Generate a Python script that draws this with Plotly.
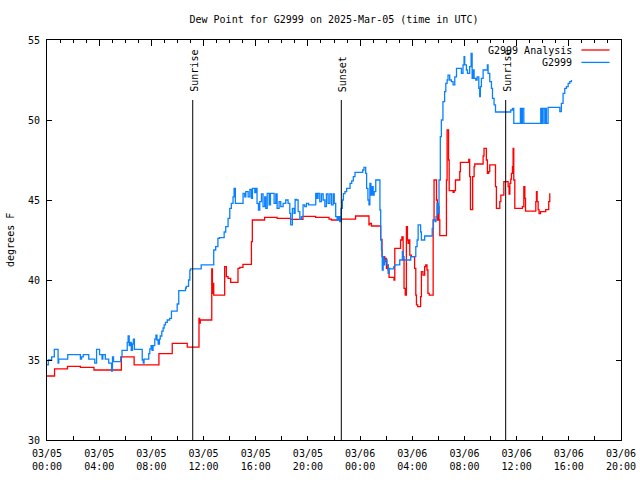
import pandas as pd
import plotly.graph_objects as go

BASE = pd.Timestamp("2025-03-05 00:00")

# hours since 03/05 00:00 UTC, dew point in F
blue_h = [0.00, 0.10, 0.36, 0.56, 0.85, 0.90, 1.59, 2.56, 2.65, 2.78, 3.20, 3.66, 3.80, 4.03, 4.22, 4.28,
          4.47, 4.73, 4.95, 5.02, 5.10, 5.65, 5.75, 6.15, 6.22, 6.30, 6.38, 6.46, 6.55, 6.62, 6.70, 7.30,
          7.38, 7.44, 7.80, 7.88, 7.98, 8.05, 8.13, 8.26, 8.35, 8.43, 8.52, 8.62, 8.68, 8.80, 8.90, 8.98,
          9.08, 9.22, 9.40, 9.54, 9.98, 10.10, 10.62, 10.68, 10.85, 10.95, 11.00, 11.82, 12.78, 12.93,
          13.10, 13.22, 13.58, 13.70, 13.88, 14.01, 14.13, 14.26, 14.34, 14.44, 15.03, 15.16, 15.24,
          15.42, 15.55, 15.67, 15.75, 15.93, 16.00, 16.10, 16.21, 16.31, 16.44, 16.56, 16.69, 16.77,
          16.88, 17.03, 17.13, 17.41, 17.54, 17.64, 17.79, 17.92, 18.10, 18.30, 18.48, 18.61, 18.68,
          18.81, 18.94, 19.02, 19.12, 19.25, 19.38, 19.50, 19.63, 19.76, 19.89, 20.05, 20.60, 20.70,
          20.78, 20.91, 21.04, 21.17, 21.30, 21.42, 21.55, 21.68, 21.81, 21.94, 22.02, 22.13, 22.24,
          22.34, 22.44, 22.54, 22.64, 22.72, 22.84, 22.97, 23.23, 23.36, 23.48, 23.61, 24.20, 24.30,
          24.43, 24.50, 24.60, 24.68, 24.75, 24.83, 24.90, 25.00, 25.08, 25.20, 25.52, 25.58, 25.64,
          25.70, 25.77, 25.82, 25.89, 26.07, 26.15, 26.22, 26.28, 26.58, 26.66, 27.04, 27.24, 27.30,
          27.37, 27.88, 28.27, 28.37, 28.45, 28.64, 28.70, 28.95, 29.53, 29.62, 29.75, 29.82, 29.90,
          29.97, 30.05, 30.15, 30.23, 30.35, 30.48, 30.57, 30.67, 30.74, 30.87, 31.00, 31.13, 31.26,
          31.39, 31.77, 31.89, 31.97, 32.02, 32.15, 32.23, 32.40, 32.51, 32.59, 32.66, 32.74, 32.87,
          32.97, 33.10, 33.17, 33.22, 33.30, 33.43, 33.76, 33.81, 33.94, 34.07, 34.15, 34.27, 34.38,
          35.55, 35.68, 35.78, 36.29, 36.37, 36.44, 36.55, 37.85, 37.93, 38.03, 38.16, 38.23, 38.28,
          38.41, 39.31, 39.43, 39.56, 39.69, 39.82, 39.95, 40.07, 40.20]
blue_v = [34.69, 35.00, 35.20, 35.67, 34.80, 35.06, 35.33, 35.06, 35.20, 35.33, 35.06, 34.80, 35.67, 35.33, 35.06, 35.33,
          35.06, 34.80, 34.30, 35.20, 34.90, 35.20, 35.60, 36.10, 36.50, 35.90, 36.10, 35.60, 36.00, 36.30, 35.67, 35.00,
          34.80, 35.06, 35.40, 35.70, 35.90, 35.60, 35.90, 36.30, 36.56, 36.25, 36.00, 36.30, 36.50, 36.80, 37.00, 37.20,
          37.35, 37.50, 37.60, 38.06, 38.50, 39.33, 39.50, 39.60, 40.00, 40.60, 40.69, 40.94, 41.875, 42.08,
          42.60, 42.65, 43.00, 43.33, 43.85, 44.48, 44.79, 45.20, 45.73, 44.79, 45.42, 45.20, 45.52,
          45.20, 45.67, 45.10, 45.73, 45.46, 45.73, 44.79, 44.375, 44.90, 45.375, 44.58, 45.20, 44.48,
          45.42, 44.69, 45.42, 44.79, 45.375, 44.48, 44.90, 44.58, 44.79, 45.00, 44.79, 44.17, 43.44,
          44.48, 44.17, 45.04, 45.00, 44.27, 43.79, 43.96, 44.69, 44.58, 44.79, 44.69, 45.42, 45.10,
          45.42, 44.90, 45.375, 45.00, 44.58, 45.375, 44.79, 45.375, 44.69, 45.375, 44.79, 43.96, 43.75,
          43.96, 43.65, 44.48, 45.00, 45.40, 45.52, 45.73, 46.04, 46.20, 46.46, 46.73, 46.875, 47.04,
          46.67, 45.73, 45.00, 44.69, 46.04, 45.31, 45.83, 45.31, 45.52, 46.25, 44.375, 42.50, 41.875,
          40.625, 41.46, 40.94, 41.25, 40.94, 40.42, 40.73, 40.69, 40.83, 40.94, 41.25, 41.77, 41.46,
          41.25, 41.46, 42.08, 42.50, 43.44, 43.00, 42.50, 42.75, 43.23, 43.75, 43.65, 43.96, 44.79,
          44.17, 46.25, 48.96, 50.00, 51.15, 51.77, 52.29, 52.50, 52.81, 52.50, 52.40, 52.19, 52.70,
          53.23, 52.92, 53.44, 53.96, 53.44, 53.125, 52.92, 53.33, 54.17, 52.60, 53.125, 52.60, 52.50,
          52.70, 51.98, 51.46, 52.08, 52.60, 53.125, 53.44, 52.92, 52.40, 51.98, 51.35, 50.94, 50.50,
          50.625, 50.73, 49.79, 50.73, 49.79, 50.73, 49.79, 50.73, 49.79, 50.73, 49.79, 50.73, 49.79,
          50.79, 50.52, 51.04, 51.67, 51.98, 52.08, 52.29, 52.40, 52.50]

red_h = [0.00, 0.58, 1.57, 2.56, 3.60, 5.70, 6.68, 8.58, 9.60, 10.75, 11.65, 11.70, 11.75, 12.63, 12.68,
         12.72, 12.78, 13.62, 13.75, 13.88, 14.08, 14.64, 14.78, 15.02, 15.67, 15.74, 16.68, 17.64, 18.66,
         19.62, 20.59, 21.62, 21.80, 22.30, 22.46, 23.65, 24.68, 24.74, 24.87, 25.58, 25.68, 25.76, 25.84,
         25.89, 25.94, 26.02, 26.09, 26.15, 26.22, 26.60, 26.66, 27.10, 27.20, 27.30, 27.37, 27.46, 27.55,
         27.63, 27.68, 27.76, 27.81, 27.93, 28.18, 28.27, 28.32, 28.42, 28.64, 28.70, 28.82, 28.95, 29.03,
         29.13, 29.20, 29.30, 29.60, 29.67, 29.86, 29.92, 29.98, 30.05, 30.11, 30.62, 30.67, 30.78, 30.83,
         31.13, 31.21, 31.31, 31.64, 31.69, 32.33, 32.40, 32.46, 32.63, 32.74, 32.79, 33.43, 33.50, 33.68,
         33.76, 33.86, 33.94, 34.38, 34.45, 34.71, 34.79, 35.02, 35.35, 35.42, 35.48, 35.55, 35.60, 35.68,
         35.73, 35.78, 35.86, 36.44, 36.55, 36.63, 36.68, 37.47, 37.52, 37.57, 37.65, 37.72, 37.83, 38.23,
         38.46, 38.54]
red_v = [34.00, 34.44, 34.60, 34.54, 34.375, 35.20, 34.70, 35.40, 36.04, 35.80, 37.60, 37.30, 37.50, 40.69, 39.17,
         39.79, 39.06, 40.83, 40.21, 40.10, 39.85, 40.73, 40.79, 40.98, 42.40, 43.75, 43.92, 43.85, 43.79,
         43.98, 43.92, 43.81, 43.75, 43.85, 43.80, 44.00, 43.44, 43.54, 43.375, 42.54, 41.46, 41.25, 41.46,
         41.15, 41.35, 40.73, 40.94, 40.625, 40.17, 40.00, 41.98, 42.50, 42.70, 41.25, 39.48, 39.06, 43.33,
         42.50, 42.29, 42.50, 41.56, 41.46, 40.73, 39.06, 38.44, 38.33, 38.96, 40.52, 40.31, 40.83, 40.94,
         40.625, 39.17, 39.06, 43.75, 46.25, 45.00, 43.75, 44.58, 43.75, 42.77, 46.25, 49.375, 47.50, 45.58,
         45.48, 45.58, 46.25, 46.77, 47.35, 47.54, 46.46, 44.40, 46.46, 47.08, 47.25, 47.75, 48.23, 47.50,
         46.67, 46.77, 47.19, 45.83, 44.48, 44.90, 45.31, 46.15, 45.83, 45.375, 46.04, 46.30, 46.67, 47.08,
         48.23, 46.25, 44.48, 44.58, 45.83, 45.10, 44.31, 44.90, 45.52, 44.90, 44.40, 44.15, 44.27, 44.40,
         44.90, 45.42]

sun_h = [11.17, 22.56, 35.16]
sun_labels = ["Sunrise", "Sunset", "Sunrise"]
sun_line_top = 51.25

series_names = ["G2999 Analysis", "G2999"]
series_colors = ["#ff0000", "#0a80ff"]

FONT = "DejaVu Sans Mono"
x_start = BASE
x_end = BASE + pd.Timedelta(hours=44)


def to_time(hours):
    return [BASE + pd.Timedelta(hours=h) for h in hours]


fig = go.Figure()
fig.add_trace(go.Scatter(x=to_time(red_h), y=red_v, mode="lines", line_shape="hv",
                         line=dict(color=series_colors[0], width=1.3), name=series_names[0],
                         showlegend=False))
fig.add_trace(go.Scatter(x=to_time(blue_h), y=blue_v, mode="lines", line_shape="hv",
                         line=dict(color=series_colors[1], width=1.3), name=series_names[1],
                         showlegend=False))
# dummy trace for the top axis
fig.add_trace(go.Scatter(x=[x_start, x_end], y=[30, 30], xaxis="x2", mode="lines",
                         opacity=0, showlegend=False, hoverinfo="skip"))

for h, lab in zip(sun_h, sun_labels):
    t = BASE + pd.Timedelta(hours=h)
    fig.add_shape(type="line", x0=t, x1=t, y0=30, y1=sun_line_top, xref="x", yref="y",
                  line=dict(color="black", width=1))
    fig.add_annotation(x=t, y=sun_line_top, xref="x", yref="y", text=lab, textangle=-90,
                       showarrow=False, yanchor="bottom", xanchor="center", yshift=6, xshift=1,
                       font=dict(family=FONT, size=10, color="black"))

# legend (gnuplot style: text then line sample)
leg_y = [0.975, 0.944]
for name, col, yy in zip(series_names, series_colors, leg_y):
    fig.add_annotation(x=0.918, y=yy, xref="paper", yref="paper", text=name, showarrow=False,
                       xanchor="right", yanchor="middle",
                       font=dict(family=FONT, size=10, color="black"))
    fig.add_shape(type="line", x0=0.931, x1=0.98, y0=yy, y1=yy, xref="paper", yref="paper",
                  line=dict(color=col, width=1.3))

fig.add_annotation(x=-0.0645, y=0.5, xref="paper", yref="paper", text="degrees F", textangle=-90,
                   showarrow=False, xanchor="center", yanchor="middle",
                   font=dict(family=FONT, size=10, color="black"))

H = 3600 * 1000
fig.update_layout(
    width=640, height=480,
    margin=dict(l=47, r=19, t=40, b=40, autoexpand=False),
    paper_bgcolor="white", plot_bgcolor="white",
    font=dict(family=FONT, size=10, color="black"),
    title=dict(text="Dew Point for G2999 on 2025-Mar-05 (time in UTC)", x=0.5, xref="paper",
               y=0.96, yref="container", yanchor="middle",
               font=dict(family=FONT, size=10, color="black")),
    xaxis=dict(type="date", range=[x_start, x_end], tick0=x_start, dtick=4 * H,
               tickformat="%m/%d<br>%H:%M", ticks="inside", ticklen=4, tickcolor="black",
               minor=dict(dtick=2 * H, ticks="inside", ticklen=4, tickcolor="black"),
               showline=True, linecolor="black", linewidth=1, mirror=True, automargin=False,
               showgrid=False, zeroline=False, ticklabelstandoff=4),
    xaxis2=dict(type="date", range=[x_start, x_end], overlaying="x", side="top", anchor="y",
                tick0=x_start, dtick=4 * H, ticks="inside", ticklen=6, tickcolor="black",
                minor=dict(dtick=1 * H, ticks="inside", ticklen=3, tickcolor="black"),
                showticklabels=False, showline=False, showgrid=False, zeroline=False,
                automargin=False),
    yaxis=dict(range=[30, 55], dtick=5, ticks="inside", ticklen=5, tickcolor="black",
               showline=True, linecolor="black", linewidth=1, mirror="ticks", automargin=False,
               showgrid=False, zeroline=False, ticklabelstandoff=4),
    showlegend=False,
)

fig.write_html("out.html")
